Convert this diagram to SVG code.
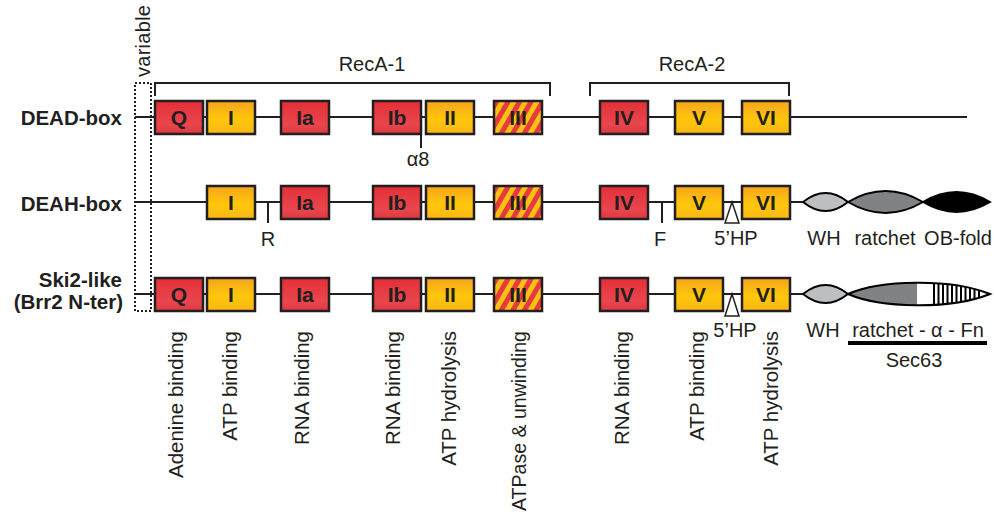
<svg xmlns="http://www.w3.org/2000/svg" width="994" height="515" viewBox="0 0 994 515">
  <defs>
    <linearGradient id="gRed" x1="0" y1="0" x2="0" y2="1">
      <stop offset="0" stop-color="#e42f36"/>
      <stop offset="0.7" stop-color="#e9464d"/>
      <stop offset="1" stop-color="#dc3840"/>
    </linearGradient>
    <linearGradient id="gYel" x1="0" y1="0" x2="0" y2="1">
      <stop offset="0" stop-color="#f5a41c"/>
      <stop offset="0.55" stop-color="#ffc70b"/>
      <stop offset="1" stop-color="#fab714"/>
    </linearGradient>
    <pattern id="stripes" patternUnits="userSpaceOnUse" width="10" height="10" patternTransform="rotate(30)">
      <rect width="10" height="10" fill="#fcc010"/>
      <rect width="5" height="10" fill="#e73a40"/>
    </pattern>
    <clipPath id="secClip">
      <path d="M848,294 C880,280 950,278 990,294 C950,310 880,308 848,294 Z"/>
    </clipPath>
    <!-- motif box outline, reused for every row -->
    <rect id="box" width="48" height="33"/>
  </defs>
  <style>
    .txt { font-family: "Liberation Sans", Arial, sans-serif; fill: #231f20; }
    .lbl { font-size: 20px; }
    .row { font-size: 20.5px; font-weight: bold; text-anchor: end; }
    .mot { font-size: 21px; font-weight: bold; text-anchor: middle; }
    .fn { font-size: 20.5px; text-anchor: end; }
    .red { fill: url(#gRed); stroke: #231f20; stroke-width: 2.5; }
    .yel { fill: url(#gYel); stroke: #231f20; stroke-width: 2.5; }
    .str { fill: url(#stripes); stroke: #231f20; stroke-width: 2.5; }
    .line { stroke: #231f20; stroke-width: 2; fill: none; }
    .dom { stroke: #000; stroke-width: 2; }
    .hp { fill: #fff; stroke: #231f20; stroke-width: 1.5; }
  </style>

  <!-- variable N-terminal region -->
  <g id="variable">
    <rect x="135" y="83" width="16" height="228" fill="none" stroke="#231f20" stroke-width="2" stroke-dasharray="2 2"/>
    <text class="txt lbl" transform="translate(150,77) rotate(-90)" textLength="72">variable</text>
  </g>

  <!-- domain brackets -->
  <g id="brackets">
    <path class="line" d="M155,96 V83 H550 V96" stroke-width="1.8"/>
    <path class="line" d="M590,96 V83 H789 V96" stroke-width="1.8"/>
    <text class="txt lbl" x="372" y="71" text-anchor="middle">RecA-1</text>
    <text class="txt lbl" x="692" y="71" text-anchor="middle">RecA-2</text>
  </g>

  <!-- backbone lines -->
  <g id="connectors">
    <line class="line" x1="135" y1="117" x2="967" y2="117"/>
    <line class="line" x1="135" y1="202" x2="803" y2="202"/>
    <line class="line" x1="135" y1="294" x2="803" y2="294"/>
    <line class="line" x1="421" y1="134" x2="421" y2="148"/>
    <line class="line" x1="268" y1="202" x2="268" y2="223"/>
    <line class="line" x1="662" y1="202" x2="662" y2="223"/>
  </g>

  <!-- row labels -->
  <g id="row-labels">
    <text class="txt row" x="122" y="125">DEAD-box</text>
    <text class="txt row" x="122" y="211">DEAH-box</text>
    <text class="txt row" x="122" y="287">Ski2-like</text>
    <text class="txt row" x="123" y="309">(Brr2 N-ter)</text>
  </g>

  <!-- DEAD-box motifs -->
  <g id="dead-box">
    <g id="dead-Q"><use href="#box" x="155" y="101" class="red"/><text class="txt mot" x="179" y="125">Q</text></g>
    <g id="dead-I"><use href="#box" x="207" y="101" class="yel"/><text class="txt mot" x="231" y="125">I</text></g>
    <g id="dead-Ia"><use href="#box" x="281" y="101" class="red"/><text class="txt mot" x="305" y="125">Ia</text></g>
    <g id="dead-Ib"><use href="#box" x="373" y="101" class="red"/><text class="txt mot" x="397" y="125">Ib</text></g>
    <g id="dead-II"><use href="#box" x="426" y="101" class="yel"/><text class="txt mot" x="450" y="125">II</text></g>
    <g id="dead-III"><use href="#box" x="494" y="101" class="str"/><text class="txt mot" x="518" y="125">III</text></g>
    <g id="dead-IV"><use href="#box" x="600" y="101" class="red"/><text class="txt mot" x="624" y="125">IV</text></g>
    <g id="dead-V"><use href="#box" x="675" y="101" class="yel"/><text class="txt mot" x="699" y="125">V</text></g>
    <g id="dead-VI"><use href="#box" x="742" y="101" class="yel"/><text class="txt mot" x="766" y="125">VI</text></g>
    <text class="txt lbl" x="418" y="166" text-anchor="middle">α8</text>
  </g>

  <!-- DEAH-box motifs -->
  <g id="deah-box">
    <g id="deah-I"><use href="#box" x="207" y="186" class="yel"/><text class="txt mot" x="231" y="210">I</text></g>
    <g id="deah-Ia"><use href="#box" x="281" y="186" class="red"/><text class="txt mot" x="305" y="210">Ia</text></g>
    <g id="deah-Ib"><use href="#box" x="373" y="186" class="red"/><text class="txt mot" x="397" y="210">Ib</text></g>
    <g id="deah-II"><use href="#box" x="426" y="186" class="yel"/><text class="txt mot" x="450" y="210">II</text></g>
    <g id="deah-III"><use href="#box" x="494" y="186" class="str"/><text class="txt mot" x="518" y="210">III</text></g>
    <g id="deah-IV"><use href="#box" x="600" y="186" class="red"/><text class="txt mot" x="624" y="210">IV</text></g>
    <g id="deah-V"><use href="#box" x="675" y="186" class="yel"/><text class="txt mot" x="699" y="210">V</text></g>
    <g id="deah-VI"><use href="#box" x="742" y="186" class="yel"/><text class="txt mot" x="766" y="210">VI</text></g>
    <path class="hp" d="M732,202 L739,223 L725,223 Z"/>
    <text class="txt lbl" x="268" y="246" text-anchor="middle">R</text>
    <text class="txt lbl" x="660" y="246" text-anchor="middle">F</text>
    <text class="txt lbl" x="736" y="245" text-anchor="middle">5’HP</text>
    <g id="deah-WH"><path class="dom" fill="#bcbec0" d="M803,202 Q825.5,184 848,202 Q825.5,220 803,202 Z"/></g>
    <g id="deah-ratchet"><path class="dom" fill="#808285" d="M848,202 Q885.5,180 923,202 Q885.5,224 848,202 Z"/></g>
    <g id="deah-OB"><path class="dom" fill="#000" d="M923,202 Q956.5,182 990,202 Q956.5,222 923,202 Z"/></g>
    <text class="txt lbl" x="824" y="245" text-anchor="middle">WH</text>
    <text class="txt lbl" x="885" y="245" text-anchor="middle">ratchet</text>
    <text class="txt lbl" x="958" y="245" text-anchor="middle">OB-fold</text>
  </g>

  <!-- Ski2-like motifs -->
  <g id="ski2-like">
    <g id="ski-Q"><use href="#box" x="155" y="278" class="red"/><text class="txt mot" x="179" y="302">Q</text></g>
    <g id="ski-I"><use href="#box" x="207" y="278" class="yel"/><text class="txt mot" x="231" y="302">I</text></g>
    <g id="ski-Ia"><use href="#box" x="281" y="278" class="red"/><text class="txt mot" x="305" y="302">Ia</text></g>
    <g id="ski-Ib"><use href="#box" x="373" y="278" class="red"/><text class="txt mot" x="397" y="302">Ib</text></g>
    <g id="ski-II"><use href="#box" x="426" y="278" class="yel"/><text class="txt mot" x="450" y="302">II</text></g>
    <g id="ski-III"><use href="#box" x="494" y="278" class="str"/><text class="txt mot" x="518" y="302">III</text></g>
    <g id="ski-IV"><use href="#box" x="600" y="278" class="red"/><text class="txt mot" x="624" y="302">IV</text></g>
    <g id="ski-V"><use href="#box" x="675" y="278" class="yel"/><text class="txt mot" x="699" y="302">V</text></g>
    <g id="ski-VI"><use href="#box" x="742" y="278" class="yel"/><text class="txt mot" x="766" y="302">VI</text></g>
    <path class="hp" d="M732,294 L739,316 L725,316 Z"/>
    <text class="txt lbl" x="735" y="337" text-anchor="middle">5’HP</text>
    <g id="ski-WH"><path class="dom" fill="#bcbec0" d="M803,294 Q825.5,276 848,294 Q825.5,312 803,294 Z"/></g>
    <g id="ski-sec63">
      <g clip-path="url(#secClip)">
        <rect x="846" y="276" width="71" height="36" fill="#808285"/>
        <rect x="917" y="276" width="75" height="36" fill="#fff"/>
        <g fill="#000">
          <rect x="933" y="276" width="2" height="36"/>
          <rect x="937.5" y="276" width="2" height="36"/>
          <rect x="942" y="276" width="2" height="36"/>
          <rect x="946.5" y="276" width="2" height="36"/>
          <rect x="951" y="276" width="2" height="36"/>
          <rect x="955.5" y="276" width="2" height="36"/>
          <rect x="960" y="276" width="2" height="36"/>
          <rect x="964.5" y="276" width="2" height="36"/>
          <rect x="969" y="276" width="2" height="36"/>
          <rect x="973.5" y="276" width="2" height="36"/>
          <rect x="978" y="276" width="2" height="36"/>
        </g>
      </g>
      <path class="dom" fill="none" d="M848,294 C880,280 950,278 990,294 C950,310 880,308 848,294 Z"/>
    </g>
    <text class="txt lbl" x="823" y="337" text-anchor="middle">WH</text>
    <text class="txt lbl" x="918" y="337" text-anchor="middle">ratchet - α - Fn</text>
    <rect x="848" y="341" width="139" height="4" fill="#000"/>
    <text class="txt lbl" x="914" y="367" text-anchor="middle">Sec63</text>
  </g>

  <!-- motif functions -->
  <g id="functions">
    <text class="txt fn" transform="translate(183,331) rotate(-90)">Adenine binding</text>
    <text class="txt fn" transform="translate(237,331) rotate(-90)">ATP binding</text>
    <text class="txt fn" transform="translate(309,331) rotate(-90)">RNA binding</text>
    <text class="txt fn" transform="translate(400,331) rotate(-90)">RNA binding</text>
    <text class="txt fn" transform="translate(456,331) rotate(-90)">ATP hydrolysis</text>
    <text class="txt fn" transform="translate(526,331) rotate(-90)" textLength="180" lengthAdjust="spacingAndGlyphs">ATPase &amp; unwinding</text>
    <text class="txt fn" transform="translate(629,331) rotate(-90)">RNA binding</text>
    <text class="txt fn" transform="translate(704,331) rotate(-90)">ATP binding</text>
    <text class="txt fn" transform="translate(778,331) rotate(-90)">ATP hydrolysis</text>
  </g>
</svg>
